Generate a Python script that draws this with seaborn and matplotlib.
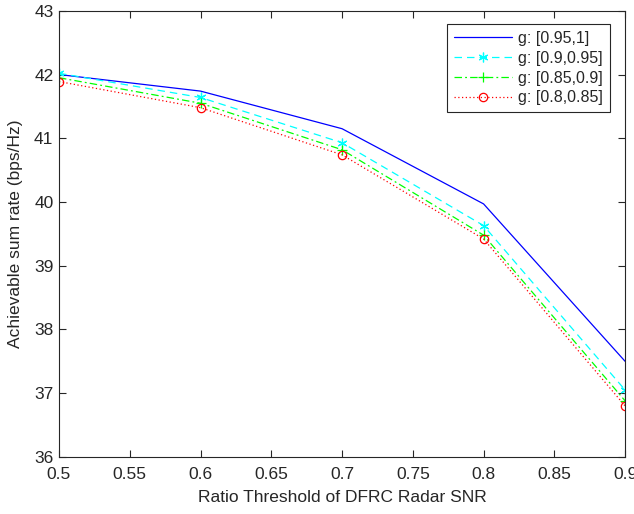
import pandas as pd
import matplotlib
matplotlib.use("Agg")
import matplotlib.pyplot as plt
import seaborn as sns

# DATA

ratio = [0.5, 0.6, 0.7, 0.8, 0.9]

rate_095_1 = [42.00, 41.74, 41.15, 39.97, 37.50]
rate_09_095 = [42.02, 41.64, 40.93, 39.63, 37.05]
rate_085_09 = [41.95, 41.55, 40.82, 39.48, 36.88]
rate_08_085 = [41.89, 41.48, 40.74, 39.42, 36.80]

labels = ["g: [0.95,1]", "g: [0.9,0.95]", "g: [0.85,0.9]", "g: [0.8,0.85]"]

xticks = [0.5, 0.55, 0.6, 0.65, 0.7, 0.75, 0.8, 0.85, 0.9]
xtick_labels = ["0.5", "0.55", "0.6", "0.65", "0.7", "0.75", "0.8", "0.85", "0.9"]
yticks = [36, 37, 38, 39, 40, 41, 42, 43]


# STYLE

sns.set_theme(style="ticks")
plt.rcParams["font.family"] = ["Liberation Sans", "DejaVu Sans"]

axis_grey = "#262626"

fig = plt.figure(figsize=(6.34, 5.14), dpi=100)
ax = fig.add_axes([0.093, 0.111, 0.893, 0.868])


# PLOT

series = [rate_095_1, rate_09_095, rate_085_09, rate_08_085]
colors = ["#0000ff", "#00ffff", "#00ff00", "#ff0000"]
styles = ["-", (0, (6, 4)), (0, (6, 2.5, 1.5, 2.5)), (0, (1, 2))]
# MATLAB style asterisk, plus and open circle
markers = [None, (6, 2, 0), "+", "o"]
sizes = [6, 7, 7, 6]

for values, label, color, ls, mk, ms in zip(series, labels, colors, styles, markers, sizes):
    sns.lineplot(
        x=ratio,
        y=values,
        ax=ax,
        color=color,
        linestyle=ls,
        linewidth=0.9,
        marker=mk,
        markersize=ms,
        markerfacecolor="none",
        markeredgecolor=color,
        markeredgewidth=0.9,
        label=label
    )


ax.set_xlim(0.5, 0.9)
ax.set_ylim(36, 43)

ax.set_xticks(xticks)
ax.set_xticklabels(xtick_labels)
ax.set_yticks(yticks)

ax.set_xlabel("Ratio Threshold of DFRC Radar SNR", fontsize=12.5, color=axis_grey, labelpad=6)
ax.set_ylabel("Achievable sum rate (bps/Hz)", fontsize=12.5, color=axis_grey, labelpad=8)

ax.tick_params(
    direction="in",
    length=5,
    width=0.8,
    top=True,
    right=True,
    labelsize=12.5,
    colors=axis_grey,
    pad=4
)
ax.tick_params(axis="x", pad=7)

for spine in ax.spines.values():
    spine.set_visible(True)
    spine.set_color(axis_grey)
    spine.set_linewidth(0.8)

legend = ax.legend(
    loc="upper right",
    bbox_to_anchor=(0.9735, 0.971),
    borderaxespad=0,
    fontsize=11.5,
    frameon=True,
    fancybox=False,
    framealpha=1,
    edgecolor=axis_grey,
    handlelength=3.6,
    borderpad=0.45,
    labelspacing=0.3,
    handletextpad=0.4
)
legend.get_frame().set_linewidth(0.8)

fig.savefig("out.png", dpi=100)
